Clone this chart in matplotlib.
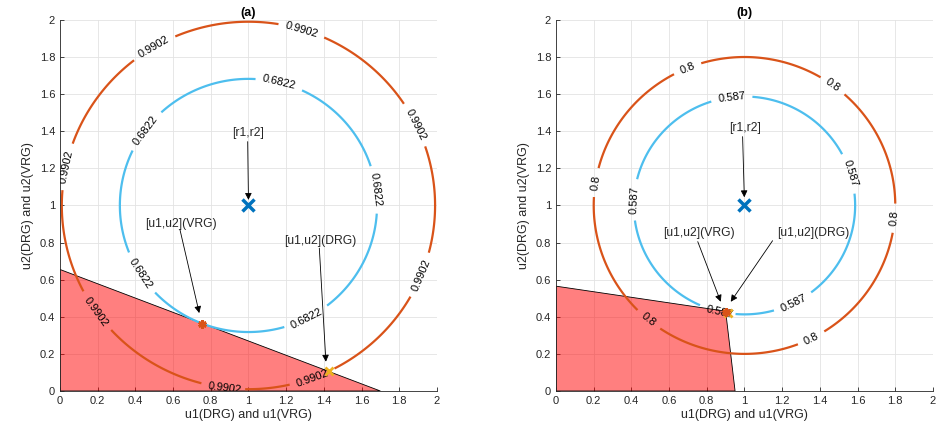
import numpy as np
import matplotlib.pyplot as plt
from matplotlib.ticker import FuncFormatter, MultipleLocator

plt.rcParams['font.family'] = ['Liberation Sans', 'DejaVu Sans']

# centre of the circles [r1,r2]
center = (1.0, 1.0)

# panel (a)
radii_a = [0.9902, 0.6822]
labels_a = ['0.9902', '0.6822']
poly_a_x = [0.0, 0.0, 1.7]
poly_a_y = [0.0, 0.655, 0.0]
vrg_a = (0.755, 0.362)
drg_a = (1.425, 0.11)
lab_pos_a = [
    [(1.282, 1.946), (0.499, 1.853), (0.035, 1.209), (1.883, 1.434),
     (1.913, 0.625), (0.191, 0.428), (0.875, 0.02), (1.341, 0.068)],
    [(1.163, 1.659), (0.451, 1.407), (1.666, 1.084), (0.424, 0.631),
     (1.309, 0.392)],
]
notes_a = [
    ('[r1,r2]', (1.0, 1.39), (0.996, 1.344), (1.0, 1.03)),
    ('[u1,u2](VRG)', (0.642, 0.90), (0.637, 0.868), (0.739, 0.42)),
    ('[u1,u2](DRG)', (1.382, 0.81), (1.376, 0.77), (1.411, 0.158)),
]

# panel (b)
radii_b = [0.8, 0.587]
labels_b = ['0.8', '0.587']
poly_b_x = [0.0, 0.0, 0.9, 0.95]
poly_b_y = [0.0, 0.565, 0.43, 0.0]
vrg_b = (0.9, 0.426)
drg_b = (0.91, 0.42)
lab_pos_b = [
    [(0.697, 1.74), (1.471, 1.65), (0.216, 1.123), (1.798, 0.931),
     (0.49, 0.383), (1.357, 0.279)],
    [(0.932, 1.581), (1.56, 1.173), (0.428, 1.03), (1.256, 0.481),
     (0.87, 0.433)],
]
notes_b = [
    ('[r1,r2]', (1.003, 1.416), (0.99, 1.371), (0.999, 1.044)),
    ('[u1,u2](VRG)', (0.76, 0.85), (0.752, 0.805), (0.874, 0.481)),
    ('[u1,u2](DRG)', (1.363, 0.853), (1.149, 0.81), (0.927, 0.481)),
]

circle_colors = ['#D95319', '#4DBEEE']
txt_col = '#262626'

gx, gy = np.meshgrid(np.linspace(0, 2, 801), np.linspace(0, 2, 801))
dist = np.sqrt((gx - center[0]) ** 2 + (gy - center[1]) ** 2)


def draw_panel(ax, title, radii, labels, px, py, vrg, drg, lab_pos, notes):
    ax.fill(px, py, facecolor=(1, 0, 0, 0.5), edgecolor='k', lw=0.6, zorder=1)
    for r, lab, col, pos in zip(radii, labels, circle_colors, lab_pos):
        cs = ax.contour(gx, gy, dist, levels=[r], colors=[col], linewidths=1.6, zorder=2)
        ax.clabel(cs, fmt={r: lab}, manual=pos, inline=True, inline_spacing=7,
                  fontsize=8, colors='k')
    ax.plot(*center, marker='x', color='#0072BD', ms=8, mew=2.5, ls='none', zorder=4)
    ax.plot(*drg, marker='x', color='#EDB120', ms=6, mew=2, ls='none', zorder=4)
    ax.plot(*vrg, marker=(6, 2, 0), color='#D95319', ms=6, mew=2, ls='none', zorder=4)
    for txt, tpos, tail, head in notes:
        ax.text(*tpos, txt, ha='center', va='center', fontsize=8.7, color=txt_col, zorder=5)
        ax.annotate('', xy=head, xytext=tail,
                    arrowprops=dict(arrowstyle='-|>', color='k', lw=0.6,
                                    mutation_scale=10, shrinkA=0, shrinkB=0),
                    zorder=5)
    ax.set_xlim(0, 2)
    ax.set_ylim(0, 2)
    ax.xaxis.set_major_locator(MultipleLocator(0.2))
    ax.yaxis.set_major_locator(MultipleLocator(0.2))
    fmt = FuncFormatter(lambda v, p: '%g' % round(v, 1))
    ax.xaxis.set_major_formatter(fmt)
    ax.yaxis.set_major_formatter(fmt)
    ax.grid(True, color='#e3e3e3', lw=0.6)
    ax.set_axisbelow(True)
    for s in ['top', 'right']:
        ax.spines[s].set_visible(False)
    for s in ['bottom', 'left']:
        ax.spines[s].set_color(txt_col)
        ax.spines[s].set_linewidth(0.6)
    ax.tick_params(direction='in', length=3, width=0.6, colors=txt_col, labelsize=8)
    ax.set_xlabel('u1(DRG) and u1(VRG)', fontsize=9, color=txt_col, labelpad=2)
    ax.set_ylabel('u2(DRG) and u2(VRG)', fontsize=9, color=txt_col, labelpad=4)
    ax.set_title(title, fontsize=9, fontweight='bold', pad=3)


fig = plt.figure(figsize=(9.37, 4.3), dpi=100)
ax1 = fig.add_axes([0.064, 0.0907, 0.4023, 0.863])
ax2 = fig.add_axes([0.5934, 0.0907, 0.4023, 0.863])
draw_panel(ax1, '(a)', radii_a, labels_a, poly_a_x, poly_a_y, vrg_a, drg_a, lab_pos_a, notes_a)
draw_panel(ax2, '(b)', radii_b, labels_b, poly_b_x, poly_b_y, vrg_b, drg_b, lab_pos_b, notes_b)
fig.savefig('out.png', dpi=100)
